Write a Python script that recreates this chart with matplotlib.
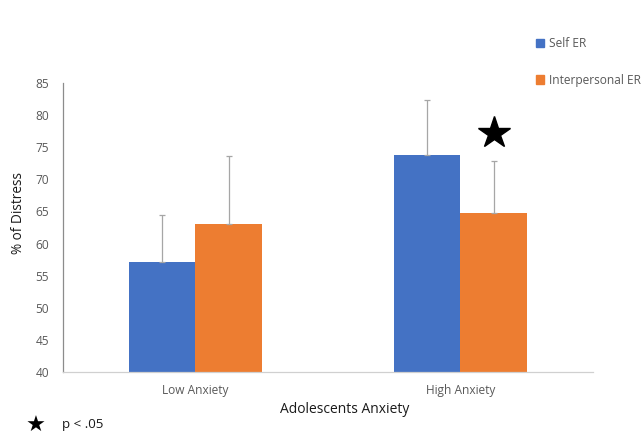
import matplotlib
matplotlib.use("Agg")
import matplotlib.pyplot as plt
import numpy as np

categories = ["Low Anxiety", "High Anxiety"]
self_er = [57.2, 73.8]
self_err = [7.2, 8.5]
inter_er = [63.0, 64.7]
inter_err = [10.6, 8.1]
series_names = ["Self ER", "Interpersonal ER"]
yticks = [40, 45, 50, 55, 60, 65, 70, 75, 80, 85]

plt.rcParams['font.family'] = ['Open Sans', 'DejaVu Sans']

blue = "#4472C4"
orange = "#ED7D31"
tick_col = "#595959"

fig = plt.figure(figsize=(6.43, 4.36), dpi=100)
ax = fig.add_axes([0.098, 0.1468, 0.824, 0.6628])

x = np.arange(len(categories))
w = 0.25
ax.bar(x - w/2, self_er, w, color=blue, zorder=2)
ax.bar(x + w/2, inter_er, w, color=orange, zorder=2)
ecol = "#a6a6a6"
ax.errorbar(x - w/2, self_er, yerr=[np.zeros(2), self_err], fmt='none',
            ecolor=ecol, elinewidth=0.9, capsize=2, capthick=0.9, zorder=3)
ax.errorbar(x + w/2, inter_er, yerr=[np.zeros(2), inter_err], fmt='none',
            ecolor=ecol, elinewidth=0.9, capsize=2, capthick=0.9, zorder=3)

# significance star
ax.plot([1 + w/2], [77.2], marker='*', markersize=24, color='black',
        linestyle='none', zorder=4)

ax.set_xlim(-0.5, 1.5)
ax.set_ylim(40, 85)
ax.set_yticks(yticks)
ax.set_xticks(x)
ax.set_xticklabels(categories)
ax.tick_params(axis='both', length=0, labelsize=8.6, colors=tick_col)
ax.tick_params(axis='y', pad=10)
ax.tick_params(axis='x', pad=9)

for s in ['top', 'right']:
    ax.spines[s].set_visible(False)
ax.spines['left'].set_color('#8c8c8c')
ax.spines['left'].set_linewidth(0.9)
ax.spines['bottom'].set_color('#d0d0d0')
ax.spines['bottom'].set_linewidth(0.9)

ax.set_ylabel("% of Distress", fontsize=9.8, color='#1a1a1a')
ax.yaxis.set_label_coords(-0.07, 0.55)
ax.set_xlabel("Adolescents Anxiety", fontsize=10, color='#1a1a1a')
ax.xaxis.set_label_coords(0.532, -0.105)

# legend
from matplotlib.patches import Patch
handles = [Patch(color=blue), Patch(color=orange)]
leg = fig.legend(handles, series_names, loc='upper left',
                 bbox_to_anchor=(0.817, 0.94), frameon=False, fontsize=8.6,
                 handlelength=0.7, handleheight=0.7, handletextpad=0.4,
                 labelspacing=2.0, labelcolor=tick_col)

fig.text(0.055, 0.0, "★", fontsize=16, family='DejaVu Sans', ha='center', va='bottom')
fig.text(0.097, 0.011, "p < .05", fontsize=9.6, ha='left', va='bottom', color='#1a1a1a')

fig.savefig("out.png", dpi=100)
